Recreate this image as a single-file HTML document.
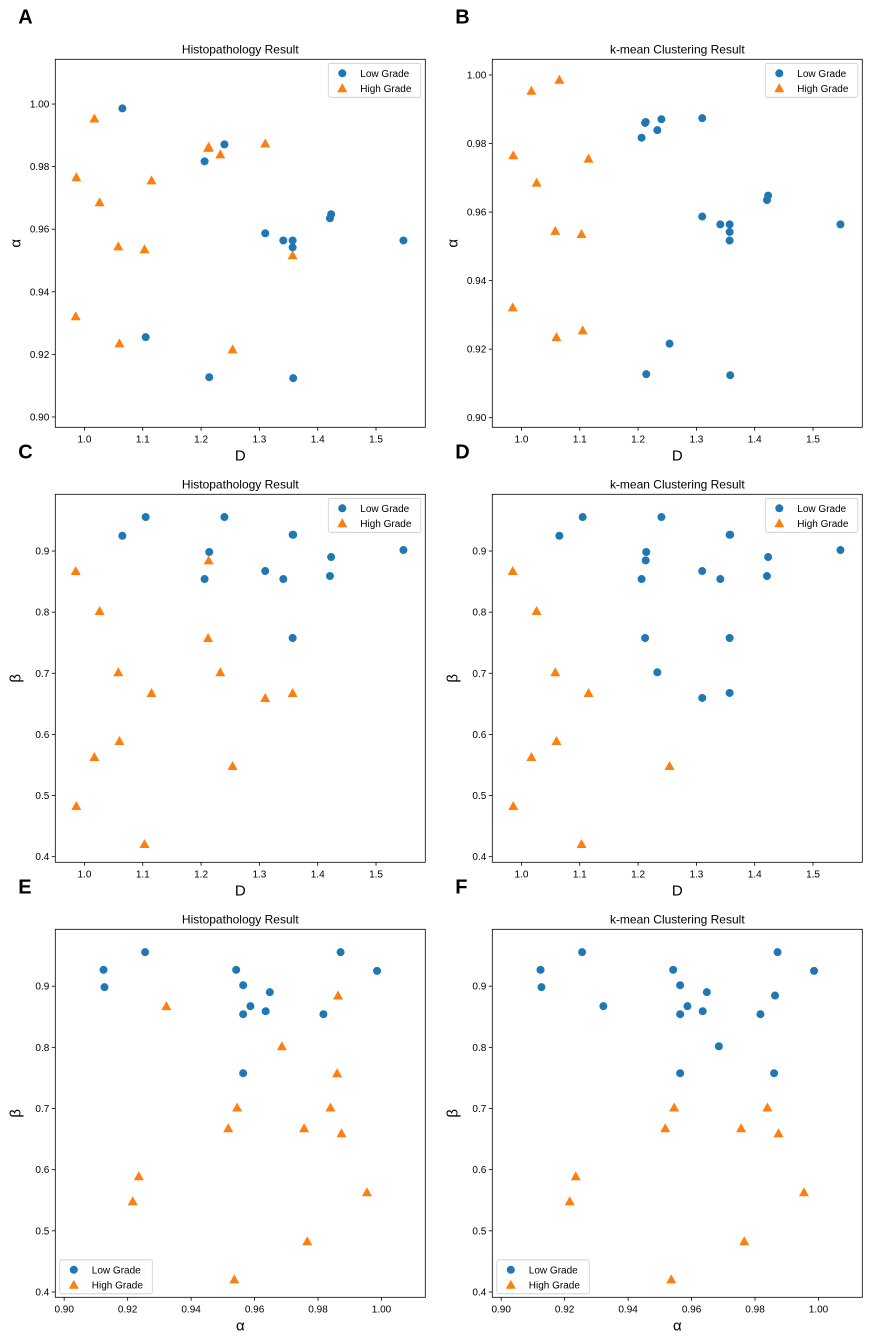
<!DOCTYPE html>
<html><head><meta charset="utf-8">
<style>
html,body{margin:0;padding:0;background:#fff;}
svg{display:block;font-family:"Liberation Sans","DejaVu Sans",sans-serif;}
</style></head>
<body>
<svg id="fig" width="872" height="1340" viewBox="0 0 872 1340" xmlns="http://www.w3.org/2000/svg"></svg>
<script>
// sample data (27 samples)
const dVals     = [1.065,1.240,1.206,1.310,1.341,1.357,1.357,1.423,1.421,1.547,1.105,1.214,1.358, 0.985,1.213,1.026,1.212,1.233,1.058,1.357,1.115,1.310,1.060,1.254,1.017,0.986,1.103];
const alphaVals = [0.9986,0.9871,0.9817,0.9587,0.9564,0.9564,0.9542,0.9648,0.9635,0.9564,0.9255,0.9127,0.9124, 0.9322,0.9863,0.9686,0.9860,0.9839,0.9545,0.9517,0.9756,0.9874,0.9235,0.9216,0.9954,0.9766,0.9536];
const betaVals  = [0.925,0.9556,0.8542,0.8673,0.8542,0.7577,0.9267,0.8902,0.8591,0.9016,0.9556,0.8984,0.9267, 0.8673,0.8847,0.8018,0.7577,0.7016,0.7016,0.6678,0.6678,0.6596,0.5892,0.5483,0.5630,0.4829,0.4207];
// class labels: 0 = Low Grade, 1 = High Grade
const histoLabels = [0,0,0,0,0,0,0,0,0,0,0,0,0, 1,1,1,1,1,1,1,1,1,1,1,1,1,1];
const kmDaLabels  = [1,0,0,0,0,0,0,0,0,0,1,0,0, 1,0,1,0,0,1,0,1,0,1,0,1,1,1];
const kmDbLabels  = [0,0,0,0,0,0,0,0,0,0,0,0,0, 1,0,1,0,0,1,0,1,0,1,1,1,1,1];
const kmAbLabels  = [0,0,0,0,0,0,0,0,0,0,0,0,0, 0,0,0,0,1,1,1,1,1,1,1,1,1,1];
const dTicks = [1.0,1.1,1.2,1.3,1.4,1.5];
const alphaTicks = [0.90,0.92,0.94,0.96,0.98,1.00];
const betaTicks = [0.4,0.5,0.6,0.7,0.8,0.9];

const NS="http://www.w3.org/2000/svg";
const svg=document.getElementById('fig');
function mk(tag,attrs,parent){const e=document.createElementNS(NS,tag);for(const k in attrs)e.setAttribute(k,attrs[k]);(parent||svg).appendChild(e);return e;}

const panels=[
 {letter:'A',title:'Histopathology Result',x0:55.3,y0:59.3,xs:dVals,ys:alphaVals,lab:histoLabels,xr:[0.950,1.5845],yr:[0.8967,1.0143],xt:dTicks,yt:alphaTicks,xd:1,yd:2,xl:'D',yl:'α',leg:'tr'},
 {letter:'B',title:'k-mean Clustering Result',x0:492.3,y0:59.3,xs:dVals,ys:alphaVals,lab:kmDaLabels,xr:[0.950,1.5845],yr:[0.8972,1.00458],xt:dTicks,yt:alphaTicks,xd:1,yd:2,xl:'D',yl:'α',leg:'tr'},
 {letter:'C',title:'Histopathology Result',x0:55.3,y0:494.3,xs:dVals,ys:betaVals,lab:histoLabels,xr:[0.950,1.5845],yr:[0.3908,0.9928],xt:dTicks,yt:betaTicks,xd:1,yd:1,xl:'D',yl:'β',leg:'tr'},
 {letter:'D',title:'k-mean Clustering Result',x0:492.3,y0:494.3,xs:dVals,ys:betaVals,lab:kmDbLabels,xr:[0.950,1.5845],yr:[0.3908,0.9928],xt:dTicks,yt:betaTicks,xd:1,yd:1,xl:'D',yl:'β',leg:'tr'},
 {letter:'E',title:'Histopathology Result',x0:55.3,y0:929.3,xs:alphaVals,ys:betaVals,lab:histoLabels,xr:[0.8972,1.0138],yr:[0.3913,0.993],xt:alphaTicks,yt:betaTicks,xd:2,yd:1,xl:'α',yl:'β',leg:'bl'},
 {letter:'F',title:'k-mean Clustering Result',x0:492.3,y0:929.3,xs:alphaVals,ys:betaVals,lab:kmAbLabels,xr:[0.8972,1.0138],yr:[0.3913,0.993],xt:alphaTicks,yt:betaTicks,xd:2,yd:1,xl:'α',yl:'β',leg:'bl'}
];
const W=370,H=368,BLUE='#1f77b4',ORANGE='#ff7f0e';

function tri(g,cx,cy,fill){
  const p=mk('polygon',{points:`${cx},${cy-5} ${cx-5},${cy+4} ${cx+5},${cy+4}`,fill:fill},g);
  return p;
}

panels.forEach((P,pi)=>{
  const g=mk('g',{});
  
  
  const sx=v=>P.x0+(v-P.xr[0])/(P.xr[1]-P.xr[0])*W;
  const sy=v=>P.y0+H-(v-P.yr[0])/(P.yr[1]-P.yr[0])*H;
  const L=mk('text',{x:P.x0-37,y:P.y0-36,'font-size':20,'font-weight':'bold',fill:'#000'},g);
  L.textContent=P.letter;
  
  
  const t=mk('text',{x:P.x0+W/2,y:P.y0-6,'font-size':12,'text-anchor':'middle',fill:'#000'},g);
  t.textContent=P.title;
  
  
  // ticks
  P.xt.forEach(v=>{const x=sx(v);
    mk('line',{x1:x,x2:x,y1:P.y0+H,y2:P.y0+H+3.5,stroke:'#000','stroke-width':0.8},g);
    const tx=mk('text',{x:x,y:P.y0+H+15,'font-size':10,'text-anchor':'middle',fill:'#000'},g);
    tx.textContent=v.toFixed(P.xd);
    
    
  });
  P.yt.forEach(v=>{const y=sy(v);
    mk('line',{x1:P.x0-3.5,x2:P.x0,y1:y,y2:y,stroke:'#000','stroke-width':0.8},g);
    const ty=mk('text',{x:P.x0-6,y:y+3.5,'font-size':10,'text-anchor':'end',fill:'#000'},g);
    ty.textContent=v.toFixed(P.yd);
    
    
  });
  const xl=mk('text',{x:P.x0+W/2,y:P.y0+H+33,'font-size':15,'text-anchor':'middle',fill:'#000'},g);
  xl.textContent=P.xl;
  
  
  const yx=P.x0-35,yy=P.y0+H/2;
  const yl=mk('text',{x:yx,y:yy,'font-size':15,'text-anchor':'middle',transform:`rotate(-90 ${yx} ${yy})`,fill:'#000'},g);
  yl.textContent=P.yl;
  
  
  // points
  P.xs.forEach((xv,i)=>{
    const cx=sx(xv),cy=sy(P.ys[i]);
    let m;
    if(P.lab[i]===0){m=mk('circle',{cx:cx,cy:cy,r:4,fill:BLUE},g);}
    else{m=tri(g,cx,cy,ORANGE);}
    
  });
  const frame=mk('rect',{x:P.x0,y:P.y0,width:W,height:H,fill:'none',stroke:'#000','stroke-width':0.8},g);
  
  
  // legend
  let lx,ly;
  if(P.leg==='tr'){lx=P.x0+W-97;ly=P.y0+4;}else{lx=P.x0+4.5;ly=P.y0+H-37.5;}
  const lg=mk('g',{},g);
  
  
  mk('rect',{x:lx,y:ly,width:92.5,height:34,rx:2,fill:'#fff','fill-opacity':0.8,stroke:'#ccc','stroke-width':0.8},lg);
  const c=mk('circle',{cx:lx+14,cy:ly+10,r:4,fill:BLUE},lg);
  
  
  const t1=mk('text',{x:lx+32,y:ly+13.5,'font-size':10,fill:'#000'},lg);
  t1.textContent='Low Grade';
  
  
  const tr=tri(lg,lx+14,ly+25,ORANGE);
  
  
  const t2=mk('text',{x:lx+32,y:ly+28.5,'font-size':10,fill:'#000'},lg);
  t2.textContent='High Grade';
  
  
});
</script>
</body></html>
